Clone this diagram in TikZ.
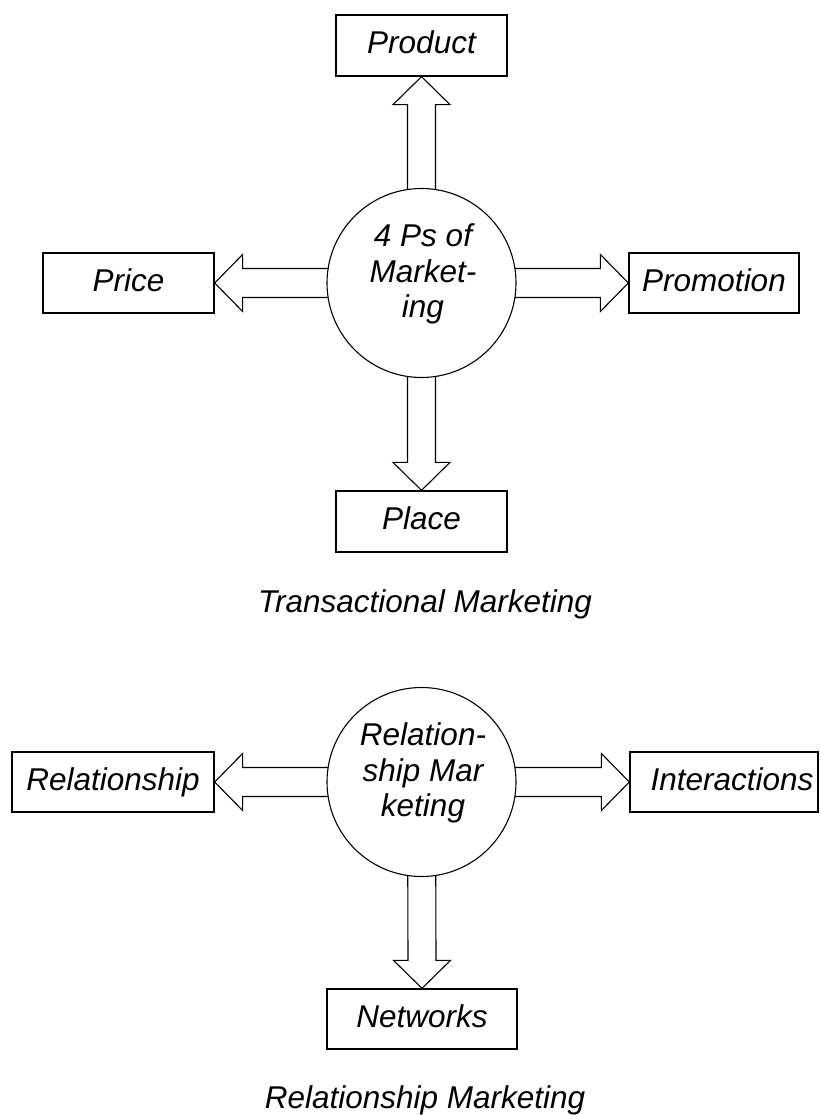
\documentclass[tikz,border=0pt]{standalone}
\usepackage{fontspec}
\setmainfont{Liberation Sans}
\usetikzlibrary{calc}
\pgfdeclarelayer{bg}
\pgfsetlayers{bg,main}
\begin{document}
\begin{tikzpicture}[x=1pt,y=-1pt,
  every node/.style={font=\fontsize{31.5}{35.5}\selectfont\itshape},
  box/.style={draw, line width=1.3pt, rectangle, inner sep=0pt,
    text height=23pt, text depth=7pt},
  hub/.style={draw, line width=1.1pt, circle, fill=white,
    minimum size=189pt, inner sep=0pt},
  hubtext/.style={align=center, inner sep=0pt},
  barrow/.style={draw, line width=1.1pt, fill=white, line join=miter},
  caption/.style={anchor=base, inner sep=0pt}]

\useasboundingbox (0,0) rectangle (820,1115);

% ---- Transactional marketing: the 4 Ps ----
\node[hub] (c1) at (421.5,283) {};
\node[hubtext] (c1t) at (423,274) {4 Ps of\\Market-\\ing};

\node[box, minimum width=171pt, minimum height=61pt] (prod)  at (421.5,45.5)  {Product};
\node[box, minimum width=171pt, minimum height=60pt] (price) at (128.5,283)   {Price};
\node[box, minimum width=170pt, minimum height=60pt] (promo) at (714,283)     {Promotion};
\node[box, minimum width=171pt, minimum height=61pt] (place) at (421.5,521.5) {Place};

\node[caption] (cap1) at (425,612) {Transactional Marketing};

% ---- Relationship marketing ----
\node[hub] (c2) at (421.5,782) {};
\node[hubtext] (c2t) at (423,773) {Relation-\\ship Mar\\keting};

\node[box, minimum width=202pt, minimum height=60pt] (rel)   at (113,782)  {Relationship};
\node[box, minimum width=188pt, minimum height=60pt] (inter) at (724,782)  {\hspace*{16pt}Interactions};
\node[box, minimum width=190pt, minimum height=60pt] (net)   at (422,1019) {Networks};

\node[caption] (cap2) at (425,1108) {Relationship Marketing};

% ---- block arrows, tucked under the circles ----
\begin{pgfonlayer}{bg}
  % up to Product
  \draw[barrow] ($(c1.center)+(-14,0)$) -- ($(prod.south)+(-14,28)$)
    -- ($(prod.south)+(-28.5,28)$) -- (prod.south) -- ($(prod.south)+(28.5,28)$)
    -- ($(prod.south)+(14,28)$) -- ($(c1.center)+(14,0)$) -- cycle;
  % down to Place
  \draw[barrow] ($(c1.center)+(-14,0)$) -- ($(place.north)+(-14,-28)$)
    -- ($(place.north)+(-28.5,-28)$) -- (place.north) -- ($(place.north)+(28.5,-28)$)
    -- ($(place.north)+(14,-28)$) -- ($(c1.center)+(14,0)$) -- cycle;
  % left to Price
  \draw[barrow] ($(c1.center)+(0,-14.5)$) -- ($(price.east)+(28,-14.5)$)
    -- ($(price.east)+(28,-28.5)$) -- (price.east) -- ($(price.east)+(28,28.5)$)
    -- ($(price.east)+(28,14.5)$) -- ($(c1.center)+(0,14.5)$) -- cycle;
  % right to Promotion
  \draw[barrow] ($(c1.center)+(0,-14.5)$) -- ($(promo.west)+(-28,-14.5)$)
    -- ($(promo.west)+(-28,-28.5)$) -- (promo.west) -- ($(promo.west)+(-28,28.5)$)
    -- ($(promo.west)+(-28,14.5)$) -- ($(c1.center)+(0,14.5)$) -- cycle;

  % left to Relationship
  \draw[barrow] ($(c2.center)+(0,-14.5)$) -- ($(rel.east)+(28,-14.5)$)
    -- ($(rel.east)+(28,-28.5)$) -- (rel.east) -- ($(rel.east)+(28,28.5)$)
    -- ($(rel.east)+(28,14.5)$) -- ($(c2.center)+(0,14.5)$) -- cycle;
  % right to Interactions
  \draw[barrow] ($(c2.center)+(0,-14.5)$) -- ($(inter.west)+(-28,-14.5)$)
    -- ($(inter.west)+(-28,-28.5)$) -- (inter.west) -- ($(inter.west)+(-28,28.5)$)
    -- ($(inter.west)+(-28,14.5)$) -- ($(c2.center)+(0,14.5)$) -- cycle;
  % down to Networks
  \draw[barrow] ($(c2.center)+(-14,0)$) -- ($(net.north)+(-14,-28)$)
    -- ($(net.north)+(-28.5,-28)$) -- (net.north) -- ($(net.north)+(28.5,-28)$)
    -- ($(net.north)+(14,-28)$) -- ($(c2.center)+(14,0)$) -- cycle;
\end{pgfonlayer}
\end{tikzpicture}
\end{document}
